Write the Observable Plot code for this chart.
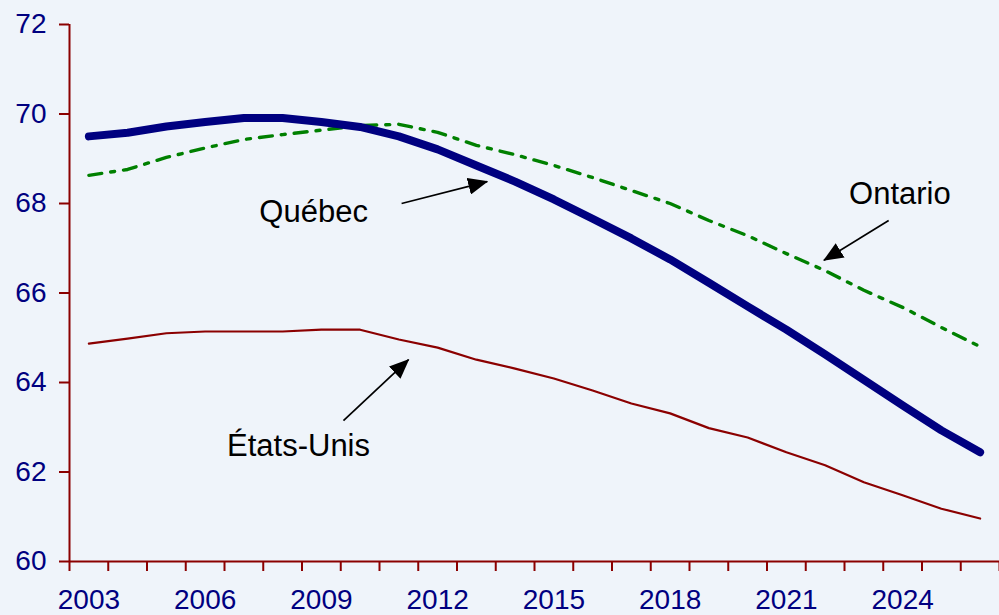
<!DOCTYPE html>
<html>
<head>
<meta charset="utf-8">
<script src="https://cdn.jsdelivr.net/npm/d3@7"></script>
<script src="https://cdn.jsdelivr.net/npm/@observablehq/plot@0.6"></script>
<style>
  html, body { margin: 0; padding: 0; background: #eff4fa; }
  #chart svg { display: block; background: #eff4fa; }
</style>
</head>
<body>
<div id="chart"></div>
<script>
const years = [2003,2004,2005,2006,2007,2008,2009,2010,2011,2012,2013,2014,2015,2016,2017,2018,2019,2020,2021,2022,2023,2024,2025,2026];
const quebec = [69.50,69.58,69.72,69.82,69.91,69.91,69.82,69.71,69.50,69.21,68.85,68.49,68.09,67.66,67.22,66.75,66.23,65.70,65.18,64.63,64.06,63.49,62.93,62.44];
const ontario = [68.63,68.76,69.03,69.24,69.43,69.54,69.64,69.74,69.77,69.59,69.30,69.09,68.85,68.58,68.29,68.00,67.62,67.28,66.88,66.50,66.06,65.68,65.23,64.80];
const usa = [64.87,64.98,65.10,65.14,65.14,65.14,65.18,65.18,64.96,64.78,64.51,64.31,64.09,63.82,63.53,63.31,62.98,62.77,62.44,62.15,61.77,61.48,61.18,60.96];
const xTickLabels = [2003,2006,2009,2012,2015,2018,2021,2024];
const yTicks = [60,62,64,66,68,70,72];

// annotations (data units)
const labelNames = ["Québec","Ontario","États-Unis"];
const labelX = [2008.80, 2023.93, 2008.41];
const labelY = [67.80, 68.22, 62.57];
const arrowX1 = [2011.07, 2023.64, 2009.57];
const arrowY1 = [68.00, 67.62, 63.15];
const arrowX2 = [2013.28, 2021.97, 2011.25];
const arrowY2 = [68.49, 66.73, 64.51];

const rows = years.map((y,i) => ({year: y, quebec: quebec[i], ontario: ontario[i], usa: usa[i]}));
const labels = labelNames.map((t,i) => ({t, x: labelX[i], y: labelY[i]}));
const arrows = labelNames.map((t,i) => ({x1: arrowX1[i], y1: arrowY1[i], x2: arrowX2[i], y2: arrowY2[i]}));
const boundaries = d3.range(years[0] - 0.5, years[years.length-1] + 1, 1);

const axisColor = "#8b0000";
const font = "Liberation Sans, Arial, sans-serif";

const chart = Plot.plot({
  width: 999,
  height: 615,
  marginLeft: 69,
  marginRight: 0,
  marginTop: 24,
  marginBottom: 54,
  style: {background: "#eff4fa", fontFamily: font, overflow: "visible"},
  x: {domain: [years[0] - 0.5, years[years.length-1] + 0.5]},
  y: {domain: [60, 72]},
  marks: [
    Plot.axisY(yTicks, {tickSize: 10, tickPadding: 13, stroke: axisColor, strokeWidth: 2, fill: "#000080", fontSize: 28, label: null, tickFormat: d => String(d)}),
    Plot.axisX(boundaries, {tickSize: 10, stroke: axisColor, strokeWidth: 2, tickFormat: () => "", label: null}),
    Plot.axisX(xTickLabels, {tickSize: 0, tickPadding: 28, fill: "#000080", fontSize: 28, label: null, tickFormat: d => String(d)}),
    Plot.ruleX([years[0] - 0.5], {stroke: axisColor, strokeWidth: 2}),
    Plot.ruleY([60], {stroke: axisColor, strokeWidth: 2}),
    Plot.line(rows, {x: "year", y: "usa", stroke: "#8b0000", strokeWidth: 2.2}),
    Plot.line(rows, {x: "year", y: "ontario", stroke: "#008000", strokeWidth: 3.4, strokeDasharray: "13,9,4,9"}),
    Plot.line(rows, {x: "year", y: "quebec", stroke: "#000080", strokeWidth: 8, strokeLinecap: "round", strokeLinejoin: "round"}),
    Plot.link(arrows, {x1: "x1", y1: "y1", x2: "x2", y2: "y2", stroke: "black", strokeWidth: 1.7}),
    Plot.text(labels, {x: "x", y: "y", text: "t", fontSize: 31, fill: "black", textAnchor: "middle"})
  ]
});

// filled arrowheads
const svg = d3.select(chart);
const defs = svg.insert("defs", ":first-child");
defs.append("marker")
  .attr("id", "ahead")
  .attr("markerUnits", "userSpaceOnUse")
  .attr("viewBox", "0 0 20 17")
  .attr("refX", 19).attr("refY", 8.5)
  .attr("markerWidth", 20).attr("markerHeight", 17)
  .attr("orient", "auto")
  .append("path").attr("d", "M0,0L20,8.5L0,17Z").attr("fill", "black");
svg.selectAll("g[aria-label=link] path").attr("marker-end", "url(#ahead)");

document.getElementById("chart").appendChild(chart);
</script>
</body>
</html>
